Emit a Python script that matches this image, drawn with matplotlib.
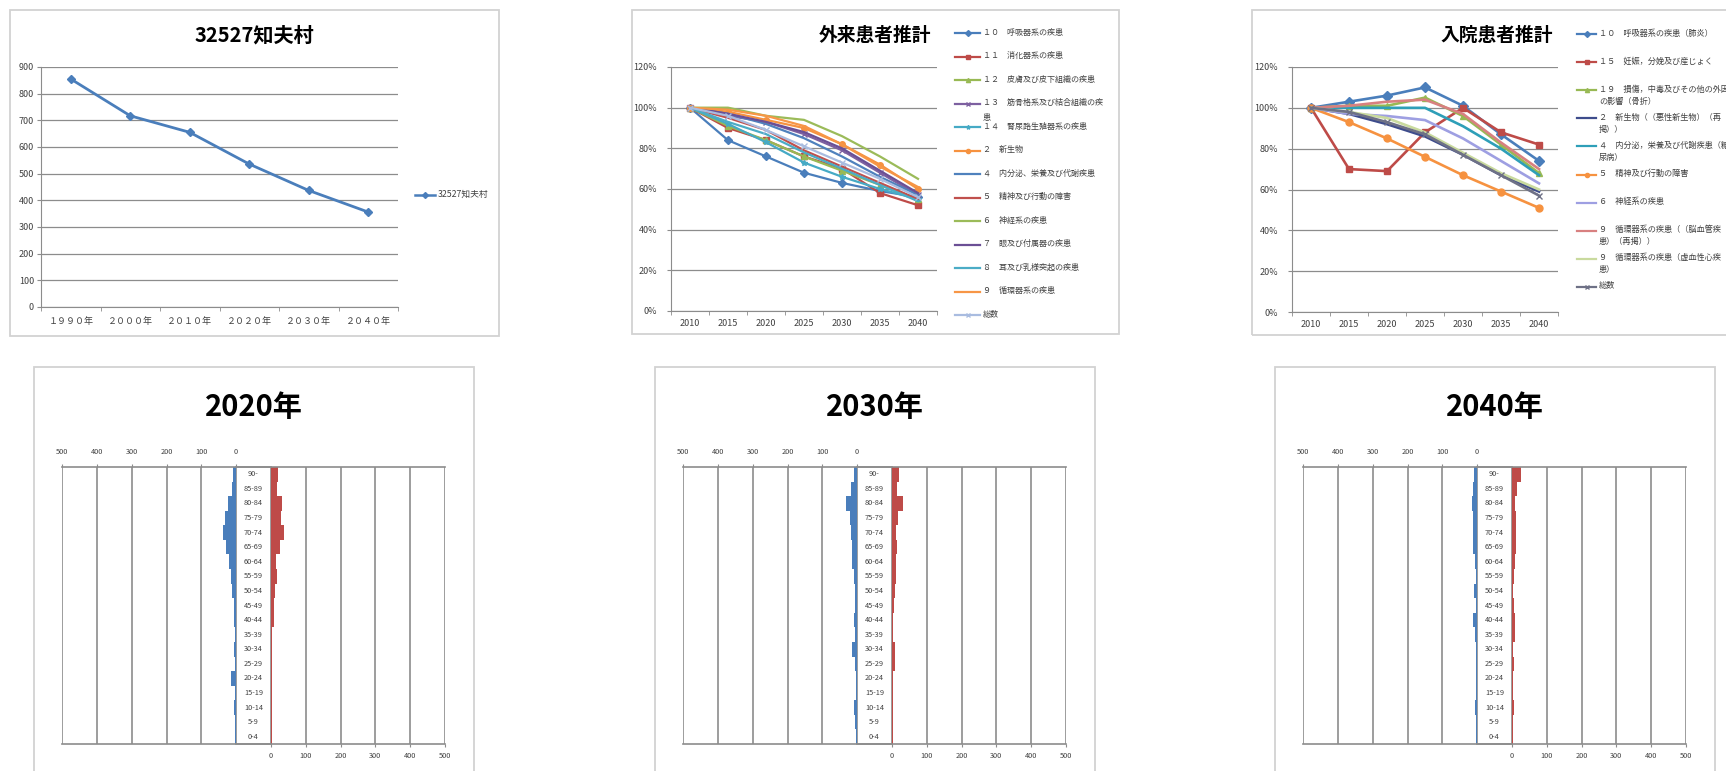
import matplotlib.pyplot as plt
from matplotlib.lines import Line2D
from matplotlib.patches import Rectangle
from matplotlib.ticker import FuncFormatter

plt.rcParams['font.family'] = ['Noto Sans CJK JP', 'DejaVu Sans']

W, H = 1726, 771

# ---- 人口推移 ----
pop_name = '32527知夫村'
pop_years = ['１９９０年', '２０００年', '２０１０年', '２０２０年', '２０３０年', '２０４０年']
pop_total = [855, 717, 655, 536, 437, 356]

# ---- 患者推計 (2010年=100%) ----
proj_years = ['2010', '2015', '2020', '2025', '2030', '2035', '2040']

out_labels = ['１０　呼吸器系の疾患', '１１　消化器系の疾患', '１２　皮膚及び皮下組織の疾患',
              '１３　筋骨格系及び結合組織の疾\n患', '１４　腎尿路生殖器系の疾患', '２　新生物',
              '４　内分泌、栄養及び代謝疾患', '５　精神及び行動の障害', '６　神経系の疾患',
              '７　眼及び付属器の疾患', '８　耳及び乳様突起の疾患', '９　循環器系の疾患', '総数']
out_rates = [
    [100, 84, 76, 68, 63, 59, 56],
    [100, 90, 84, 76, 70, 58, 52],
    [100, 91, 84, 76, 69, 62, 55],
    [100, 96, 93, 87, 79, 68, 57],
    [100, 92, 83, 73, 66, 60, 55],
    [100, 98, 94, 90, 82, 72, 60],
    [100, 97, 92, 85, 76, 66, 57],
    [100, 95, 89, 79, 71, 63, 55],
    [100, 100, 96, 94, 86, 76, 65],
    [100, 97, 93, 88, 80, 69, 58],
    [100, 93, 87, 78, 70, 62, 54],
    [100, 99, 96, 91, 82, 71, 61],
    [100, 96, 89, 81, 73, 65, 56],
]

in_labels = ['１０　呼吸器系の疾患（肺炎）', '１５　妊娠，分娩及び産じょく',
             '１９　損傷，中毒及びその他の外因\nの影響（骨折）', '２　新生物（（悪性新生物）（再\n掲））',
             '４　内分泌，栄養及び代謝疾患（糖\n尿病）', '５　精神及び行動の障害', '６　神経系の疾患',
             '９　循環器系の疾患（（脳血管疾\n患）（再掲））', '９　循環器系の疾患（虚血性心疾\n患）', '総数']
in_rates = [
    [100, 103, 106, 110, 101, 87, 74],
    [100, 70, 69, 88, 100, 88, 82],
    [100, 101, 101, 105, 96, 82, 68],
    [100, 97, 92, 86, 77, 67, 59],
    [100, 100, 100, 100, 91, 80, 67],
    [100, 93, 85, 76, 67, 59, 51],
    [100, 97, 96, 94, 85, 74, 63],
    [100, 101, 103, 104, 97, 83, 70],
    [100, 98, 95, 88, 78, 68, 60],
    [100, 98, 93, 87, 77, 67, 57],
]

# ---- 人口ピラミッド (下から 0-4 → 90-) ----
ages = ['0-4', '5-9', '10-14', '15-19', '20-24', '25-29', '30-34', '35-39', '40-44',
        '45-49', '50-54', '55-59', '60-64', '65-69', '70-74', '75-79', '80-84', '85-89', '90-']
pyr_years = ['2020年', '2030年', '2040年']
male_2020 = [4, 4, 5, 4, 14, 3, 5, 4, 5, 7, 12, 16, 22, 30, 39, 32, 24, 12, 8]
female_2020 = [2, 2, 3, 3, 4, 4, 3, 3, 9, 8, 11, 17, 14, 25, 38, 29, 32, 17, 22]
male_2030 = [4, 5, 8, 4, 4, 7, 15, 5, 8, 5, 7, 10, 14, 16, 19, 21, 31, 18, 10]
female_2030 = [3, 3, 3, 3, 3, 10, 10, 4, 3, 5, 10, 11, 11, 14, 11, 18, 31, 16, 21]
male_2040 = [4, 4, 5, 3, 3, 4, 4, 7, 11, 4, 8, 4, 5, 11, 12, 12, 14, 12, 8]
female_2040 = [4, 4, 6, 3, 3, 6, 4, 8, 8, 5, 3, 6, 9, 12, 12, 12, 10, 16, 27]

# ---- styles ----
out_colors = ['#4A7EBB', '#BE4B48', '#98B954', '#7D60A0', '#46AAC5', '#F69240',
              '#4F81BD', '#C0504D', '#9BBB59', '#6B4F95', '#4BACC6', '#F79646', '#A9BCE0']
out_markers = ['D', 's', '^', 'x', '*', 'o', None, None, None, None, None, None, 'x']
in_colors = ['#4A7EBB', '#BE4B48', '#98B954', '#3E4C8C', '#2E9FB8', '#F69240',
             '#9E9FE2', '#D88080', '#C9DA9E', '#6E7186']
in_markers = ['D', 's', '^', None, None, 'o', None, None, None, 'x']
GRID = '#8C8C8C'
TXT = '#404040'

fig = plt.figure(figsize=(W / 100, H / 100), dpi=100)


def px_axes(l, t, r, b):
    return fig.add_axes([l / W, 1 - b / H, (r - l) / W, (b - t) / H])


def px_box(l, t, r, b):
    fig.add_artist(Rectangle((l / W, 1 - b / H), (r - l) / W, (b - t) / H,
                             transform=fig.transFigure, fill=False,
                             edgecolor='#D2D2D2', lw=1.3))


def px_text(x, y, s, **kw):
    fig.text(x / W, 1 - y / H, s, **kw)


def legend_rows(x, y0, step, length, labels, colors, markers, size, ms, lw, spacing):
    for i, lab in enumerate(labels):
        y = y0 + i * step
        fig.add_artist(Line2D([x / W, (x + length) / W], [1 - y / H] * 2,
                              transform=fig.transFigure, color=colors[i], lw=lw))
        if markers[i]:
            fig.add_artist(Line2D([(x + length / 2) / W], [1 - y / H], transform=fig.transFigure,
                                  color=colors[i], marker=markers[i], ms=ms, lw=0))
        px_text(x + length + 3, y - 5.5, lab, fontsize=size, color=TXT, va='top',
                linespacing=spacing)


def style_line_axes(ax, cats, xpad, ypad):
    n = len(cats)
    ax.set_xlim(-0.5, n - 0.5)
    ax.set_xticks(range(n))
    ax.set_xticklabels(cats)
    ax.set_xticks([i - 0.5 for i in range(n + 1)], minor=True)
    ax.tick_params(axis='x', which='major', length=0, pad=xpad, labelsize=6.5, labelcolor=TXT)
    ax.tick_params(axis='x', which='minor', length=3, color=GRID)
    ax.tick_params(axis='y', length=3, color=GRID, pad=ypad, labelsize=6.5, labelcolor=TXT)
    ax.grid(axis='y', color=GRID, lw=0.9)
    ax.set_axisbelow(True)
    for s in ['top', 'right']:
        ax.spines[s].set_visible(False)
    for s in ['left', 'bottom']:
        ax.spines[s].set_color(GRID)


# ===== 1: 人口推移 =====
px_box(10, 10, 499, 336)
px_text(254, 35, pop_name, fontsize=14.5, fontweight='bold', ha='center', va='center')
ax1 = px_axes(41, 67, 398, 307)
ax1.plot(range(len(pop_years)), pop_total, color='#4A7EBB', lw=2, marker='D', ms=4)
ax1.set_ylim(0, 900)
ax1.set_yticks(range(0, 901, 100))
style_line_axes(ax1, pop_years, 7, 2)
legend_rows(415, 195, 0, 20, [pop_name], ['#4A7EBB'], ['D'], 6.3, 3, 1.8, 1.2)

# ===== 2: 外来患者推計 =====
pct = FuncFormatter(lambda v, p: f'{v:.0f}%')
px_box(632, 10, 1119, 334)
px_text(875, 35, '外来患者推計', fontsize=13.5, fontweight='bold', ha='center', va='center')
ax2 = px_axes(671, 67, 937, 311)
for vals, c, m in zip(out_rates, out_colors, out_markers):
    ax2.plot(range(len(proj_years)), vals, color=c, lw=1.6, marker=m, ms=4)
ax2.set_ylim(0, 120)
ax2.set_yticks(range(0, 121, 20))
ax2.yaxis.set_major_formatter(pct)
style_line_axes(ax2, proj_years, 6, 7)
legend_rows(955, 33, 23.5, 25, out_labels, out_colors, out_markers, 5.8, 3, 1.6, 1.9)

# ===== 3: 入院患者推計 =====
px_box(1252, 10, 1745, 335)
px_text(1497, 35, '入院患者推計', fontsize=13.5, fontweight='bold', ha='center', va='center')
ax3 = px_axes(1292, 67, 1558, 312)
for vals, c, m in zip(in_rates, in_colors, in_markers):
    ax3.plot(range(len(proj_years)), vals, color=c, lw=1.9, marker=m, ms=5)
ax3.set_ylim(0, 120)
ax3.set_yticks(range(0, 121, 20))
ax3.yaxis.set_major_formatter(pct)
style_line_axes(ax3, proj_years, 6, 7)
legend_rows(1577, 34, 28.1, 19, in_labels, in_colors, in_markers, 5.9, 3, 1.6, 1.45)

# ===== 4-6: 人口ピラミッド =====
males = [male_2020, male_2030, male_2040]
females = [female_2020, female_2030, female_2040]
for k, (year, m_vals, f_vals) in enumerate(zip(pyr_years, males, females)):
    L = [62, 683, 1303][k]
    px_box(L - 28, 367, L + 412, 790)
    px_text(L + 192, 407, year, fontsize=21, fontweight='bold', ha='center', va='center')
    y = range(len(ages))

    axl = px_axes(L, 467, L + 209, 744)
    axl.barh(y, m_vals, height=1.0, color='#4A7EBB')
    axl.set_xlim(500, -100)
    axr = px_axes(L + 174, 467, L + 383, 744)
    axr.barh(y, f_vals, height=1.0, color='#BE4B48')
    axr.set_xlim(-100, 500)
    for ax in (axl, axr):
        ax.patch.set_alpha(0)
        ax.set_ylim(-0.5, len(ages) - 0.5)
        ax.set_yticks([])
        ax.set_xticks(range(0, 501, 100))
        ax.grid(axis='x', color=GRID, lw=1.2)
        ax.set_axisbelow(True)
        for s in ['left', 'right']:
            ax.spines[s].set_visible(False)
        for s in ['top', 'bottom']:
            ax.spines[s].set_color(GRID)
            ax.spines[s].set_linewidth(1.2)
        ax.tick_params(axis='x', length=2, color=GRID, labelsize=5.3, labelcolor=TXT)
    axl.xaxis.tick_top()
    axl.tick_params(axis='x', pad=6)
    axr.tick_params(axis='x', pad=4)
    for i, a in enumerate(ages):
        axr.text(-50, i, a, fontsize=5.3, color=TXT, ha='center', va='center')

fig.savefig('out.png', dpi=100)
